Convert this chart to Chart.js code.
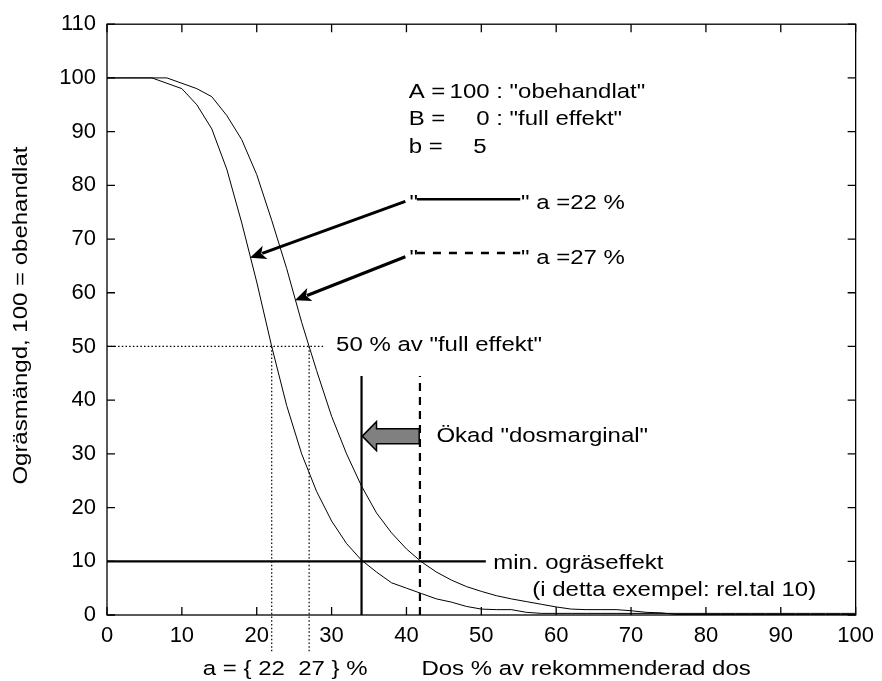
<!DOCTYPE html>
<html>
<head>
<meta charset="utf-8">
<script src="https://cdn.jsdelivr.net/npm/chart.js@4.4.1/dist/chart.umd.min.js"></script>
<style>
html,body{margin:0;padding:0;background:#fff}
#c{display:block}
</style>
</head>
<body>
<canvas id="c" width="882" height="681"></canvas>
<script>
// dos (% av rekommenderad dos) och ogräsmängd för a = 22 % och a = 27 %
const doseX = [0,2,4,6,8,10,12,14,16,18,20,22,24,26,28,30,32,34,36,38,40,42,44,46,48,50,
  52,54,56,58,60,62,64,66,68,70,72,74,76,78,80,82,84,86,88,90,92,94,96,98,100];
const weedA22 = [100,100,100,100,99,98,95,90.5,83,73,62,50,39,30,23,17.5,13.3,10.2,8,6,5,4,3,2.4,1.6,1.1,
  1,1,0.5,0.3,0.3,0.3,0.3,0.3,0.3,0.3,0.3,0.3,0.3,0.3,0.3,0.3,0.3,0.3,0.3,0.3,0.3,0.3,0.3,0.3,0.3];
const weedA27 = [100,100,100,100,100,99,98,96.5,93,88.5,82,73.5,64.5,54.5,45.5,37,30,24,19,15.3,12.3,9.9,8,6.5,5.3,4.4,
  3.6,3,2.5,2,1.5,1.1,1,1,1,0.8,0.5,0.4,0.1,0.1,0.1,0.1,0.1,0.1,0.1,0.1,0.1,0.1,0.1,0.1,0.1];

const xTickValues = [0,10,20,30,40,50,60,70,80,90,100];
const yTickValues = [0,10,20,30,40,50,60,70,80,90,100,110];

// hjälplinjer
const minEffect = 10;            // min. ogräseffekt (rel.tal)
const minEffectEnd = 50.6;
const halfLevel = 50;            // 50 % av "full effekt"
const halfLineEnd = 29;
const aValues = [22, 27];
const aLineBottom = -7;
const limitDose = [34, 41.8];    // dos där kurvorna når min. effekt
const limitTop = 44.5;
const legendLineX = [41.4, 55.2];
const legendLineY = [77.4, 67.4];

// texter (x, y i dataenheter)
const notes = [
  ['A =', 40.3, 97.3, 'left'], ['100', 51.1, 97.3, 'right'], [' : "obehandlat"', 51.1, 97.3, 'left'],
  ['B =', 40.3, 92.3, 'left'], ['0', 51.1, 92.3, 'right'], [' : "full effekt"', 51.1, 92.3, 'left'],
  ['b =', 40.3, 87.1, 'left'], ['5', 50.7, 87.1, 'right'],
  ['"', 40.4, 76.6, 'left'], ['" a =22 %', 55.3, 76.6, 'left'],
  ['"', 40.4, 66.4, 'left'], ['" a =27 %', 55.3, 66.4, 'left'],
  ['50 % av "full effekt"', 30.6, 50.2, 'left'],
  ['Ökad "dosmarginal"', 44.0, 33.2, 'left'],
  ['min. ogräseffekt', 51.6, 9.6, 'left'],
  ['(i detta exempel: rel.tal 10)', 56.8, 4.6, 'left'],
  ['a = { 22  27 } %', 12.8, -10.2, 'left'],
  ['Dos % av rekommenderad dos', 42.0, -10.2, 'left'],
];
// pilar från legendrader till kurvorna
const arrows = [
  [39.85, 77.0, 19.1, 66.5],
  [39.85, 66.7, 25.1, 58.6],
];
const marginArrow = {from: 41.7, to: 34.1, headBase: 36.0, y: 33.3, body: 1.4, head: 2.7};

const FONT = '20.5px "Liberation Sans", Arial, sans-serif';
const STRETCH = 1.17;

function pts(xs, ys){ return xs.map((x,i)=>({x, y: ys[i]})); }
function seg(x1,y1,x2,y2){ return [{x:x1,y:y1},{x:x2,y:y2}]; }

function lineSet(data, width, dash, clip){
  return {data, borderColor:'#000', borderWidth:width, borderDash:dash||[], pointRadius:0, tension:0, fill:false, clip: clip ? undefined : false};
}

function text(ctx, s, px, py, align){
  ctx.save();
  ctx.translate(px, py);
  ctx.scale(STRETCH, 1);
  ctx.textAlign = align;
  ctx.textBaseline = 'middle';
  ctx.fillText(s, 0, 0);
  ctx.restore();
}

function arrow(ctx, x1, y1, x2, y2){
  const ang = Math.atan2(y2-y1, x2-x1), head = 16, half = 7;
  const bx = x2 - head*Math.cos(ang), by = y2 - head*Math.sin(ang);
  ctx.lineWidth = 3;
  ctx.beginPath(); ctx.moveTo(x1,y1); ctx.lineTo(bx+3*Math.cos(ang), by+3*Math.sin(ang)); ctx.stroke();
  ctx.beginPath();
  ctx.moveTo(x2,y2);
  ctx.lineTo(bx + half*Math.sin(ang), by - half*Math.cos(ang));
  ctx.lineTo(bx + 4*Math.cos(ang), by + 4*Math.sin(ang));
  ctx.lineTo(bx - half*Math.sin(ang), by + half*Math.cos(ang));
  ctx.closePath(); ctx.fill();
}

const notePlugin = {
  id: 'notes',
  afterDraw(chart){
    const {ctx, chartArea: a, scales: {x, y}} = chart;
    const X = v => x.getPixelForValue(v), Y = v => y.getPixelForValue(v);
    ctx.save();
    ctx.strokeStyle = '#000'; ctx.fillStyle = '#000';

    // ram och inåtriktade tickar
    ctx.lineWidth = 1.3;
    ctx.strokeRect(a.left, a.top, a.right - a.left, a.bottom - a.top);
    ctx.beginPath();
    x.ticks.forEach(t => { const p = X(t.value); ctx.moveTo(p, a.bottom); ctx.lineTo(p, a.bottom-8); ctx.moveTo(p, a.top); ctx.lineTo(p, a.top+8); });
    y.ticks.forEach(t => { const p = Y(t.value); ctx.moveTo(a.left, p); ctx.lineTo(a.left+8, p); ctx.moveTo(a.right, p); ctx.lineTo(a.right-8, p); });
    ctx.stroke();

    // grå blockpil
    const m = marginArrow, cy = Y(m.y);
    const bh = Y(m.y) - Y(m.y + m.body), hh = Y(m.y) - Y(m.y + m.head);
    ctx.beginPath();
    ctx.moveTo(X(m.to), cy);
    ctx.lineTo(X(m.headBase), cy - hh);
    ctx.lineTo(X(m.headBase), cy - bh);
    ctx.lineTo(X(m.from), cy - bh);
    ctx.lineTo(X(m.from), cy + bh);
    ctx.lineTo(X(m.headBase), cy + bh);
    ctx.lineTo(X(m.headBase), cy + hh);
    ctx.closePath();
    ctx.fillStyle = '#808080'; ctx.fill();
    ctx.lineWidth = 1.5; ctx.stroke();
    ctx.fillStyle = '#000';

    arrows.forEach(r => arrow(ctx, X(r[0]), Y(r[1]), X(r[2]), Y(r[3])));

    ctx.font = FONT;
    notes.forEach(n => text(ctx, n[0], X(n[1]), Y(n[2]), n[3]));

    // y-axelns titel
    ctx.save();
    ctx.translate(a.left - 86, (a.top + a.bottom)/2 - 4);
    ctx.rotate(-Math.PI/2);
    ctx.scale(STRETCH, 1);
    ctx.textAlign = 'center'; ctx.textBaseline = 'middle';
    ctx.fillText('Ogräsmängd, 100 = obehandlat', 0, 0);
    ctx.restore();

    ctx.restore();
  }
};

const datasets = [
  lineSet(pts(doseX, weedA22), 1, null, true),
  lineSet(pts(doseX, weedA27), 1, null, true),
  lineSet(seg(0, minEffect, minEffectEnd, minEffect), 2.2),
  lineSet(seg(limitDose[0], 0, limitDose[0], limitTop), 2.2),
  lineSet(seg(limitDose[1], 0, limitDose[1], limitTop), 2.2, [8,6]),
  lineSet(seg(0, halfLevel, halfLineEnd, halfLevel), 1.2, [1.5,2.2]),
  lineSet(seg(aValues[0], halfLevel, aValues[0], aLineBottom), 1.2, [1.5,2.2]),
  lineSet(seg(aValues[1], halfLevel, aValues[1], aLineBottom), 1.2, [1.5,2.2]),
  lineSet(seg(legendLineX[0], legendLineY[0], legendLineX[1], legendLineY[0]), 2.5),
  lineSet(seg(legendLineX[0], legendLineY[1], legendLineX[1], legendLineY[1]), 2.5, [8,8]),
];

const tickFont = {family: '"Liberation Sans", Arial, sans-serif', size: 22};

new Chart(document.getElementById('c'), {
  type: 'line',
  data: {datasets},
  options: {
    responsive: false,
    animation: false,
    devicePixelRatio: 1,
    layout: {padding: {top: 22, right: 23, left: 0, bottom: 0}},
    plugins: {legend: {display: false}, tooltip: {enabled: false}},
    scales: {
      x: {
        type: 'linear', min: 0, max: 100,
        grid: {display: false, drawTicks: false},
        border: {display: false},
        afterBuildTicks: s => { s.ticks = xTickValues.map(v => ({value: v})); },
        afterFit: s => { s.height = 66; },
        ticks: {color: '#000', font: tickFont, padding: 8, maxRotation: 0, autoSkip: false}
      },
      y: {
        min: 0, max: 110,
        grid: {display: false, drawTicks: false},
        border: {display: false},
        afterBuildTicks: s => { s.ticks = yTickValues.map(v => ({value: v})); },
        afterFit: s => { s.width = 107; },
        ticks: {color: '#000', font: tickFont, padding: 11, autoSkip: false}
      }
    }
  },
  plugins: [notePlugin]
});
</script>
</body>
</html>
